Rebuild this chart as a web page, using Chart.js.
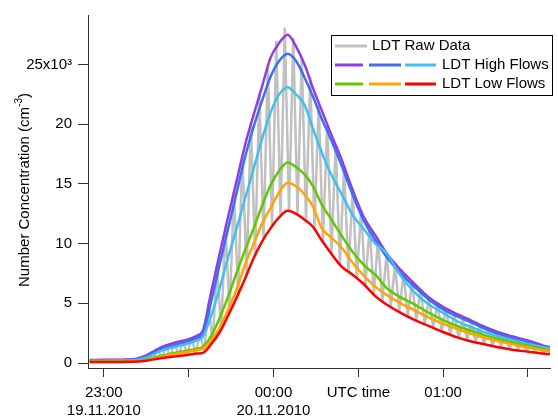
<!DOCTYPE html>
<html><head><meta charset="utf-8">
<script src="https://cdn.jsdelivr.net/npm/chart.js@4.4.0/dist/chart.umd.min.js"></script>
<style>html,body{margin:0;padding:0;background:#fff}#wrap{position:relative;width:558px;height:419px}</style>
</head><body><div id="wrap"><canvas id="c" width="558" height="419"></canvas></div>
<script>
// minutes after 23:00 UTC (19.11.2010)
const times = [-5,0,10,15,20,25,30,33,35,38,41,44,47,50,53,56,59,62,65,68,71,74,77,80,84,88,92,96,100,105,110,115,120,125,130,135,140,145,150,155,158];
// concentrations in units of 10^3 cm^-3
const highPurple = [0.25,0.27,0.32,0.65,1.3,1.7,2.0,2.3,2.7,6.0,9.2,12.3,15.3,18.3,20.8,23.2,25.6,26.8,27.5,26.5,25.0,23.0,21.2,19.4,17.1,14.5,12.2,10.7,9.2,7.8,6.6,5.5,4.7,4.1,3.55,3.0,2.55,2.2,1.9,1.5,1.3];
const highBlue   = [0.2,0.22,0.27,0.55,1.15,1.5,1.85,2.1,2.4,5.2,8.3,11.3,14.3,17.3,19.8,22.0,24.0,25.3,25.9,25.3,23.9,22.3,20.5,18.9,16.6,14.1,11.9,10.3,8.9,7.5,6.35,5.3,4.5,3.9,3.4,2.85,2.4,2.05,1.75,1.4,1.2];
const highCyan   = [0.18,0.2,0.24,0.45,1.0,1.35,1.65,1.9,2.2,4.0,6.3,8.9,11.3,13.8,16.3,18.8,21.0,22.5,23.1,22.5,21.6,19.6,17.7,16.0,14.2,12.4,11.2,10.0,9.2,7.3,5.9,4.9,4.2,3.5,3.0,2.55,2.2,1.9,1.6,1.35,1.2];
const lowGreen   = [0.12,0.13,0.15,0.3,0.6,0.85,1.05,1.2,1.35,2.3,3.8,5.6,7.6,9.5,11.3,13.2,14.9,16.1,16.8,16.4,15.8,14.8,13.3,12.2,10.7,9.3,8.2,7.4,6.3,5.5,4.9,4.2,3.6,3.1,2.7,2.3,2.0,1.7,1.45,1.2,1.05];
const lowOrange  = [0.1,0.1,0.12,0.25,0.5,0.75,0.95,1.1,1.2,1.9,3.0,4.5,6.2,8.3,10.0,11.7,13.0,14.3,15.1,14.8,14.1,13.1,11.3,10.6,9.7,8.4,7.3,6.4,5.7,5.0,4.4,3.8,3.3,2.85,2.45,2.1,1.8,1.55,1.3,1.1,0.95];
const lowRed     = [0.08,0.08,0.1,0.2,0.4,0.55,0.7,0.8,0.85,1.6,2.6,4.0,5.5,7.1,8.8,10.2,11.3,12.2,12.75,12.5,12.0,11.4,10.3,9.3,8.1,7.4,6.6,5.6,4.9,4.2,3.6,3.1,2.6,2.15,1.8,1.55,1.3,1.1,0.95,0.8,0.75];
// raw data, one value every 1.5 min starting at -5 min
const rawStart = -5, rawStep = 1.5;
const rawValues = [0.25,0.1,0.26,0.1,0.27,0.1,0.28,0.1,0.3,0.1,0.32,0.12,0.5,0.2,0.8,0.3,1.2,0.4,1.45,0.5,1.7,0.6,1.9,0.7,2.1,0.8,2.5,0.9,
  5.0,1.7,8.2,2.8,11.4,4.2,14.4,5.8,17.5,7.4,20.2,9.0,22.6,10.4,25.0,11.5,27.0,12.3,28.1,12.7,27.2,12.5,25.6,12.0,24.0,11.3,21.6,10.2,20.0,9.2,
  18.3,8.3,16.5,7.6,14.5,7.2,12.8,6.5,11.4,5.7,10.4,5.1,9.2,4.7,8.3,4.3,7.5,3.9,6.8,3.6,6.1,3.3,5.4,3.0,4.9,2.7,4.5,2.4,4.1,2.1,3.7,1.9,
  3.4,1.75,3.1,1.6,2.85,1.45,2.6,1.3,2.4,1.15,2.15,1.05,1.95,0.95,1.75,0.9,1.55,0.8,1.35];
const xTickValues = [0,30,60,90,120,150];
const xTickLabels = [['23:00','19.11.2010'],'',['00:00','20.11.2010'],'UTC time','01:00',''];
const yTickValues = [0,5,10,15,20,25];
const yTickLabels = ['0','5','10','15','20','25x10\u00B3'];

const FONT = "'Liberation Sans', Arial, sans-serif";
const pts = arr => arr.map((v,i)=>({x:times[i], y:v}));
const rawPts = rawValues.map((v,i)=>({x:rawStart+rawStep*i, y:v}));

const legendPlugin = {
  id:'customLegend',
  afterDraw(chart){
    const c = chart.ctx;
    c.save();
    c.fillStyle='#fff'; c.fillRect(331,35,222,61);
    c.strokeStyle='#000'; c.lineWidth=1; c.strokeRect(331.5,35.5,221,60);
    const seg=(x1,x2,y,col)=>{c.beginPath();c.strokeStyle=col;c.lineWidth=3;c.moveTo(x1,y);c.lineTo(x2,y);c.stroke();};
    seg(335,367,46,'#c0c0c0');
    seg(335,363,65,'#8f3fe0'); seg(369,401,65,'#3f6ff0'); seg(405,436,65,'#40c0f0');
    seg(335,363,84,'#5fc800'); seg(369,401,84,'#ffa500'); seg(405,436,84,'#ff0000');
    c.fillStyle='#000'; c.font='15px '+FONT; c.textBaseline='middle'; c.textAlign='left';
    c.fillText('LDT Raw Data',372,46);
    c.fillText('LDT High Flows',442,65);
    c.fillText('LDT Low Flows',442,84);
    // y axis title with superscript
    c.translate(25,190); c.rotate(-Math.PI/2);
    const main='Number Concentration (cm', sup='-3', end=')';
    c.font='15px '+FONT; const w1=c.measureText(main).width, w3=c.measureText(end).width;
    c.font='10px '+FONT; const w2=c.measureText(sup).width;
    let x=-(w1+w2+w3)/2;
    c.font='15px '+FONT; c.fillText(main,x,0); x+=w1;
    c.font='10px '+FONT; c.fillText(sup,x,-6); x+=w2;
    c.font='15px '+FONT; c.fillText(end,x,0);
    c.restore();
  }
};

const line=(data,col,order,extra)=>Object.assign({data,borderColor:col,borderWidth:2.5,pointRadius:0,fill:false,order,cubicInterpolationMode:'monotone',borderJoinStyle:'round'},extra||{});

new Chart(document.getElementById('c'),{
  type:'line',
  data:{datasets:[
    line(rawPts,'#c0c0c0',10,{cubicInterpolationMode:'default',tension:0,borderWidth:2.5,borderJoinStyle:'bevel'}),
    line(pts(highPurple),'#8f3fe0',6),
    line(pts(highBlue),'#3f6ff0',5),
    line(pts(highCyan),'#40c0f0',4),
    line(pts(lowGreen),'#5fc800',3),
    line(pts(lowOrange),'#ffa500',2),
    line(pts(lowRed),'#ff0000',1)
  ]},
  options:{
    responsive:false, animation:false, devicePixelRatio:1,
    layout:{padding:{top:12,right:8,left:0,bottom:0}},
    plugins:{legend:{display:false},tooltip:{enabled:false}},
    scales:{
      x:{type:'linear',min:-5.6,max:157.8,
        afterBuildTicks:s=>{s.ticks=xTickValues.map(v=>({value:v}));},
        afterFit:s=>{s.height=51;},
        ticks:{callback:v=>xTickLabels[xTickValues.indexOf(v)],font:{family:FONT,size:15},color:'#000',padding:7,maxRotation:0,minRotation:0,autoSkip:false},
        grid:{drawOnChartArea:false,tickLength:9,color:'#333',tickColor:'#333',lineWidth:1},
        border:{color:'#333',width:1}},
      y:{type:'linear',min:-0.415,max:29.15,
        afterBuildTicks:s=>{s.ticks=yTickValues.map(v=>({value:v}));},
        afterFit:s=>{s.width=88;},
        ticks:{callback:v=>yTickLabels[yTickValues.indexOf(v)],font:{family:FONT,size:15},color:'#000',padding:6,autoSkip:false},
        grid:{drawOnChartArea:false,tickLength:10,color:'#333',tickColor:'#333',lineWidth:1},
        border:{color:'#333',width:1}}
    }
  },
  plugins:[legendPlugin]
});
</script></body></html>
